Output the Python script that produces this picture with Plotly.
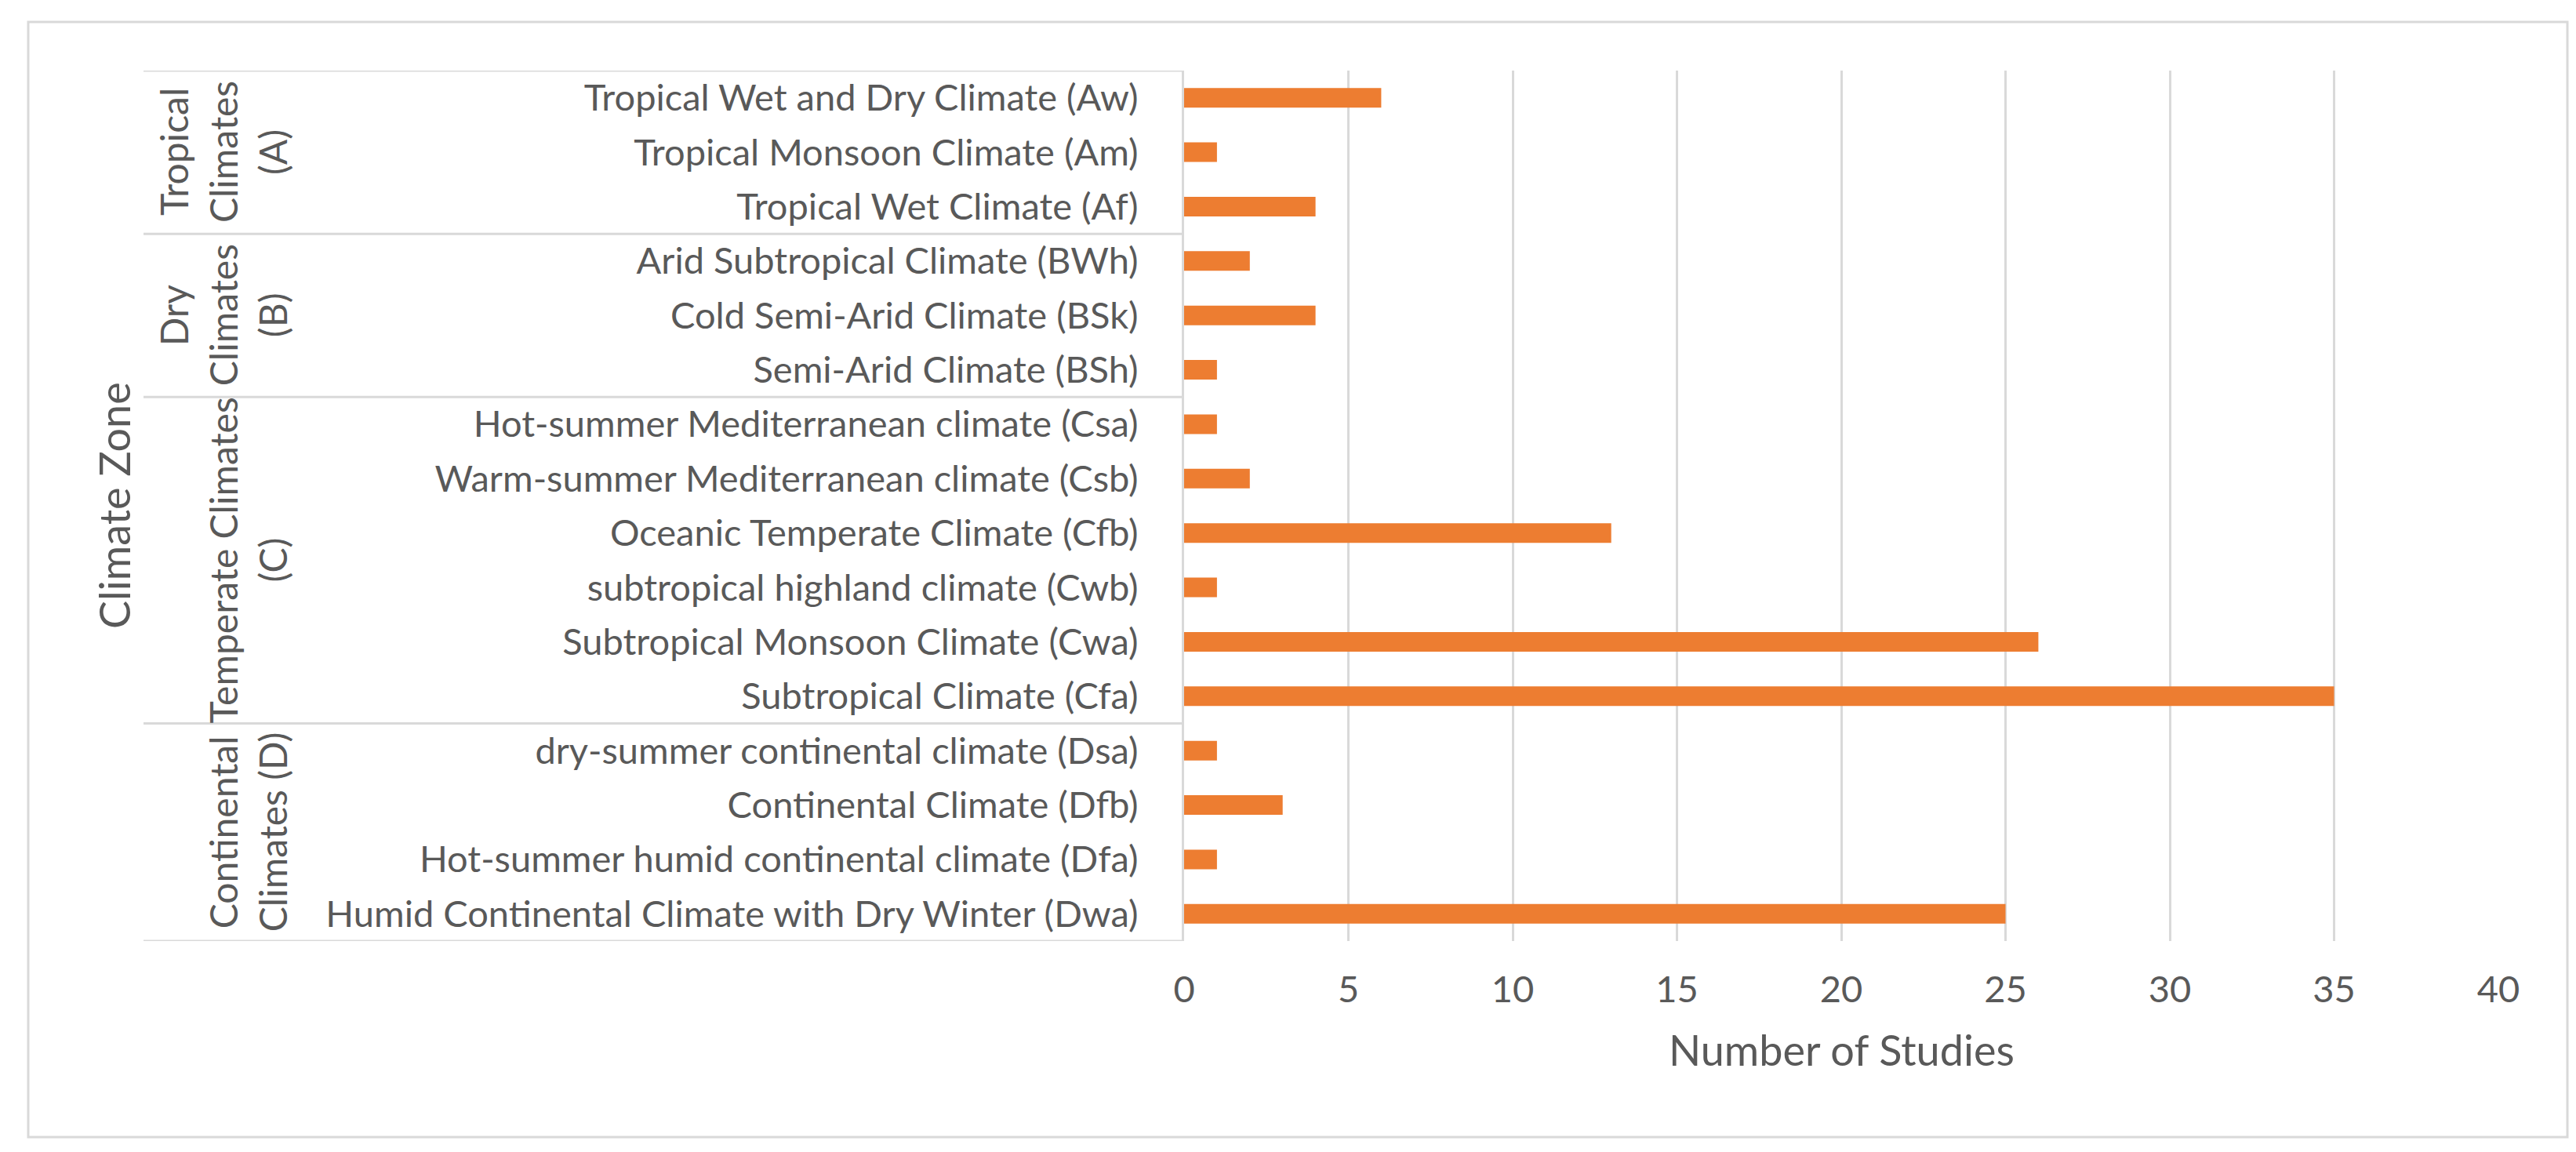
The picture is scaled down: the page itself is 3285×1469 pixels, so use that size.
import plotly.graph_objects as go

# ---- data ----
categories = [
    "Tropical Wet and Dry Climate (Aw)",
    "Tropical Monsoon Climate (Am)",
    "Tropical Wet Climate (Af)",
    "Arid Subtropical Climate (BWh)",
    "Cold Semi-Arid Climate (BSk)",
    "Semi-Arid Climate (BSh)",
    "Hot-summer Mediterranean climate (Csa)",
    "Warm-summer Mediterranean climate (Csb)",
    "Oceanic Temperate Climate (Cfb)",
    "subtropical highland climate (Cwb)",
    "Subtropical Monsoon Climate (Cwa)",
    "Subtropical Climate (Cfa)",
    "dry-summer continental climate (Dsa)",
    "Continental Climate (Dfb)",
    "Hot-summer humid continental climate (Dfa)",
    "Humid Continental Climate with Dry Winter (Dwa)",
]
studies = [6, 1, 4, 2, 4, 1, 1, 2, 13, 1, 26, 35, 1, 3, 1, 25]

group_sizes = [3, 3, 6, 4]
group_lines = [
    ["Tropical", "Climates", "(A)"],
    ["Dry", "Climates", "(B)"],
    ["Temperate Climates", "(C)"],
    ["Continental", "Climates (D)"],
]
x_ticks = [0, 5, 10, 15, 20, 25, 30, 35, 40]
x_title = "Number of Studies"
y_title = "Climate Zone"

# ---- style ----
W, H = 3285, 1469
L, R, T, B = 1502, 3285 - 3178, 82, 1469 - 1192
PW, PH = W - L - R, H - T - B
FONT = "Lato"
TXT = "#595959"
GRID = "#d9d9d9"
ORANGE = "#ED7D31"

def px_to_xpaper(px):
    return (px - L) / PW

def px_to_ypaper(py):
    return (H - B - py) / PH

fig = go.Figure(go.Bar(
    x=studies, y=categories, orientation="h",
    marker=dict(color=ORANGE, line=dict(width=0)),
))

fig.update_layout(
    width=W, height=H,
    margin=dict(l=L, r=R, t=T, b=B),
    paper_bgcolor="white", plot_bgcolor="white",
    bargap=0.64, showlegend=False,
    font=dict(family=FONT, color=TXT, size=47),
)
fig.update_xaxes(
    range=[0, 40], tickvals=x_ticks, showgrid=True, gridcolor=GRID, gridwidth=3,
    zeroline=False, showline=False, ticks="", ticklabelstandoff=30,
    tickfont=dict(family=FONT, size=47, color=TXT),
)
fig.update_yaxes(
    type="category", range=[len(categories) - 0.5, -0.5], showgrid=False,
    showline=True, linecolor=GRID, linewidth=3, ticks="", ticklabelstandoff=46,
    tickfont=dict(family=FONT, size=47, color=TXT),
)

shapes = []
annotations = []
# horizontal separators of the category box
x_box_left = px_to_xpaper(175)
bounds = [-0.5]
for n in group_sizes:
    bounds.append(bounds[-1] + n)
for b in bounds:
    shapes.append(dict(type="line", xref="paper", yref="y", x0=x_box_left, x1=0,
                       y0=b, y1=b, line=dict(color=GRID, width=3)))

# group labels (rotated)
col_px = {3: [213, 276, 339], 2: [276, 339]}
start = 0
for n, lines in zip(group_sizes, group_lines):
    yc = start + (n - 1) / 2
    for xp, txt in zip(col_px[len(lines)], lines):
        annotations.append(dict(text=txt, xref="paper", yref="y", x=px_to_xpaper(xp), y=yc,
                                textangle=-90, showarrow=False, xanchor="center", yanchor="middle",
                                font=dict(family=FONT, size=48, color=TXT)))
    start += n

# axis titles
annotations.append(dict(text=y_title, xref="paper", yref="paper", x=px_to_xpaper(137),
                        y=px_to_ypaper(637), textangle=-90, showarrow=False,
                        xanchor="center", yanchor="middle",
                        font=dict(family=FONT, size=54, color=TXT)))
annotations.append(dict(text=x_title, xref="paper", yref="paper", x=px_to_xpaper(2340),
                        y=px_to_ypaper(1330), showarrow=False,
                        xanchor="center", yanchor="middle",
                        font=dict(family=FONT, size=54, color=TXT)))

# outer border
shapes.append(dict(type="rect", xref="paper", yref="paper",
                   x0=px_to_xpaper(28), x1=px_to_xpaper(3266),
                   y0=px_to_ypaper(1442), y1=px_to_ypaper(20),
                   line=dict(color=GRID, width=3), fillcolor="rgba(0,0,0,0)", layer="below"))

fig.update_layout(shapes=shapes, annotations=annotations)
fig.write_html("out.html")
